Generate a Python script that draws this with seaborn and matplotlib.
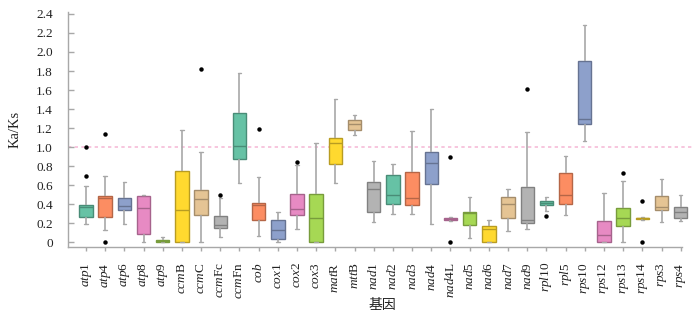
import numpy as np
import pandas as pd
import matplotlib
matplotlib.use("Agg")
import matplotlib.pyplot as plt
import seaborn as sns

genes = ["atp1", "atp4", "atp6", "atp8", "atp9", "ccmB", "ccmC", "ccmFc", "ccmFn",
         "cob", "cox1", "cox2", "cox3", "matR", "mttB", "nad1", "nad2", "nad3",
         "nad4", "nad4L", "nad5", "nad6", "nad7", "nad9", "rpl10", "rpl5", "rps10",
         "rps12", "rps13", "rps14", "rps3", "rps4"]
# (italic part, upright part) of each gene label
label_parts = [("atp", "1"), ("atp", "4"), ("atp", "6"), ("atp", "8"), ("atp", "9"),
               ("ccm", "B"), ("ccm", "C"), ("ccm", "Fc"), ("ccm", "Fn"), ("cob", ""),
               ("cox", "1"), ("cox", "2"), ("cox", "3"), ("mat", "R"), ("mtt", "B"),
               ("nad", "1"), ("nad", "2"), ("nad", "3"), ("nad", "4"), ("nad", "4L"),
               ("nad", "5"), ("nad", "6"), ("nad", "7"), ("nad", "9"), ("rpl", "10"),
               ("rpl", "5"), ("rps", "10"), ("rps", "12"), ("rps", "13"), ("rps", "14"),
               ("rps", "3"), ("rps", "4")]

whisker_low = [0.19, 0.13, 0.19, 0.00, 0.00, 0.00, 0.00, 0.06, 0.62,
               0.07, 0.00, 0.14, 0.00, 0.62, 1.13, 0.21, 0.30, 0.30,
               0.19, 0.22, 0.04, 0.00, 0.12, 0.14, 0.33, 0.29, 1.06,
               0.00, 0.00, 0.235, 0.21, 0.22]
q1 = [0.27, 0.27, 0.34, 0.09, 0.00, 0.00, 0.29, 0.155, 0.87,
      0.23, 0.03, 0.29, 0.00, 0.82, 1.18, 0.32, 0.40, 0.39,
      0.61, 0.235, 0.18, 0.005, 0.26, 0.20, 0.39, 0.40, 1.24,
      0.00, 0.17, 0.245, 0.34, 0.26]
median = [0.37, 0.46, 0.38, 0.36, 0.01, 0.34, 0.45, 0.18, 1.01,
          0.39, 0.13, 0.35, 0.26, 1.04, 1.24, 0.56, 0.50, 0.46,
          0.83, 0.242, 0.31, 0.14, 0.40, 0.23, 0.415, 0.50, 1.30,
          0.075, 0.25, 0.252, 0.37, 0.32]
q3 = [0.39, 0.49, 0.47, 0.49, 0.022, 0.75, 0.55, 0.28, 1.355,
      0.41, 0.23, 0.51, 0.51, 1.10, 1.285, 0.63, 0.71, 0.74,
      0.95, 0.252, 0.32, 0.17, 0.48, 0.58, 0.437, 0.73, 1.91,
      0.22, 0.36, 0.259, 0.49, 0.37]
whisker_high = [0.59, 0.70, 0.635, 0.50, 0.058, 1.185, 0.95, 0.47, 1.78,
                0.69, 0.32, 0.81, 1.04, 1.51, 1.34, 0.85, 0.82, 1.17,
                1.40, 0.263, 0.48, 0.23, 0.56, 1.16, 0.48, 0.91, 2.28,
                0.52, 0.64, 0.27, 0.67, 0.50]

outlier_gene = ["atp1", "atp1", "atp4", "atp4", "ccmC", "ccmFc", "cob", "cox2",
                "nad4L", "nad4L", "nad9", "rpl10", "rps13", "rps14", "rps14"]
outlier_value = [0.70, 1.00, 1.135, 0.00, 1.82, 0.50, 1.19, 0.845,
                 0.90, 0.00, 1.61, 0.28, 0.725, 0.43, 0.00]

ytick_values = [0, 0.2, 0.4, 0.6, 0.8, 1.0, 1.2, 1.4, 1.6, 1.8, 2.0, 2.2, 2.4]
ytick_labels = ["0", "0.2", "0.4", "0.6", "0.8", "1.0", "1.2", "1.4", "1.6",
                "1.8", "2.0", "2.2", "2.4"]
reference_value = 1.0

sns.set_theme(style="white")
plt.rcParams['font.family'] = ['Liberation Serif', 'Noto Sans CJK SC', 'DejaVu Sans']
plt.rcParams['mathtext.fontset'] = 'custom'
plt.rcParams['mathtext.it'] = 'Liberation Serif:italic'
plt.rcParams['mathtext.rm'] = 'Liberation Serif'

rows = []
for g, a, b, c, d, e in zip(genes, whisker_low, q1, median, q3, whisker_high):
    for v in (a, b, c, d, e):
        rows.append((g, v))
df = pd.DataFrame(rows, columns=["gene", "value"])

palette = sns.color_palette("Set2", 8)
colors = [palette[i % 8] for i in range(len(genes))]

fig = plt.figure(figsize=(7, 3.17), dpi=100)
ax = fig.add_axes([0.0971, 0.2208, 0.8986, 0.7413])

grey = "#a8a8a8"
for i, g in enumerate(genes):
    c = np.array(colors[i])
    sub = df[df["gene"] == g]
    sns.boxplot(data=sub, x="gene", y="value", order=genes, color=tuple(c),
                saturation=1, width=0.7, whis=(0, 100), showfliers=False,
                linewidth=1.0, linecolor=tuple(c * 0.72),
                whiskerprops=dict(color=grey, linewidth=1.2),
                capprops=dict(color=grey, linewidth=1.0),
                capwidths=0.18,
                ax=ax)

sns.stripplot(x=outlier_gene, y=outlier_value, order=genes, jitter=False,
              color="black", size=3.2, ax=ax, zorder=5)

ax.axhline(reference_value, xmin=0, xmax=0.992, color="#f6bcd8",
           linestyle=(0, (2, 2)), linewidth=1.2, zorder=0.5)

ax.set_xlim(-0.94, 31.85)
ax.set_ylim(-0.05, 2.42)
ax.set_yticks(ytick_values)
ax.set_yticklabels(ytick_labels)
ax.set_xticks(range(len(genes)))
ax.set_xticklabels([r"$\mathit{%s}$%s" % (it, rm) if rm else r"$\mathit{%s}$" % it
                    for it, rm in label_parts], rotation=90)

for s in ["top", "right"]:
    ax.spines[s].set_visible(False)
for s in ["left", "bottom"]:
    ax.spines[s].set_color(grey)
    ax.spines[s].set_linewidth(1.0)
ax.spines["bottom"].set_bounds(-0.94, 31.05)

ax.tick_params(axis="y", direction="in", length=4, width=1, color=grey,
               labelsize=9.5, labelcolor="#222222", pad=11, left=True)
ax.tick_params(axis="x", direction="out", length=3, width=1, color=grey,
               labelsize=9.5, labelcolor="#222222", pad=8, bottom=True)

ax.set_xlabel("基因", fontsize=10, color="#222222")
ax.set_ylabel("Ka/Ks", fontsize=10.5, color="#222222")
ax.xaxis.set_label_coords(0.5, -0.251)
ax.xaxis.label.set_va("center")
ax.yaxis.set_label_coords(-0.084, 0.5)
ax.yaxis.label.set_va("center")
ax.grid(False)

fig.savefig("out.png", dpi=100)
